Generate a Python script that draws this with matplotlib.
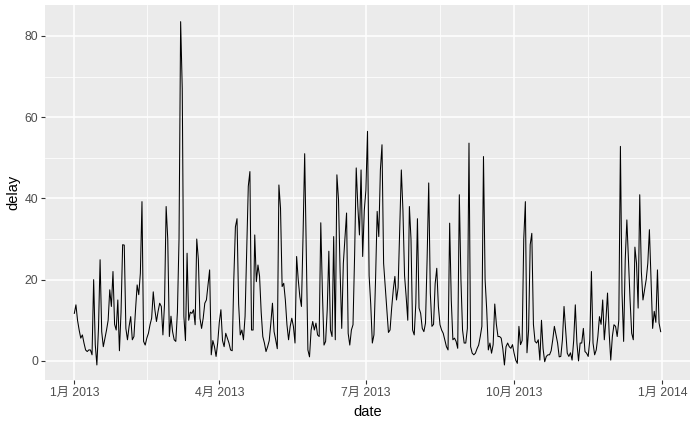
import matplotlib
matplotlib.use("Agg")
import matplotlib.pyplot as plt
import matplotlib.dates as mdates
import pandas as pd

plt.rcParams['font.family'] = ['Liberation Sans', 'Noto Sans CJK SC', 'DejaVu Sans']

# mean departure delay per day
jan = [11.7, 13.8, 10, 7.6, 5.6, 6.4, 4.4, 2.7, 2.3, 2.7, 2.7, 1.5, 20, 4, -1, 8,
       24.9, 7.2, 3.5, 5.6, 7.6, 10, 17.5, 13.4, 22, 9, 7.6, 15, 2.5, 12, 28.6]
feb = [28.5, 8, 5.2, 8.5, 10.9, 5.2, 6, 12.6, 18.7, 16.3, 21.6, 39.2, 4.8, 3.9,
       5.6, 6.8, 8.9, 10.5, 17, 12.6, 9.7, 12.2, 14.2, 13.4, 6.4, 14, 38, 30]
mar = [6, 11, 7.2, 5.2, 4.8, 12, 30, 83.5, 67, 11, 5, 26.5, 10, 12, 11.7, 12.6,
       8.9, 30, 25, 10.5, 8, 10.5, 14.2, 15, 18.7, 22.4, 1.5, 5, 3.5, 1.1, 4.4]
apr = [9.5, 12.6, 5, 3.5, 6.8, 5.6, 4.4, 2.7, 2.5, 20, 33, 35, 14, 6.4, 7.6,
       5.2, 11, 27.3, 43, 46.6, 7.6, 7.6, 31, 19.5, 23.6, 20.8, 12, 6, 4.4, 2.3]
may = [3.5, 5, 9.3, 14.2, 7.2, 5.2, 3, 43.3, 37.6, 18.3, 19.1, 15, 8.9, 5.2, 8.5,
       10.5, 8.5, 4.4, 25.7, 20, 15.8, 13.4, 31, 51, 27.3, 2.7, 1, 7.6, 9.7, 7.6, 9.3]
jun = [6.4, 6, 34, 17, 3.9, 4.8, 12.6, 27, 7.6, 6, 30.6, 5.2, 45.8, 39.7, 22, 8,
       24, 30, 36.4, 6.8, 3.9, 7.6, 8.9, 26, 47.5, 38, 31, 47, 25.7, 37]
jul = [42, 56.5, 21, 14, 4.4, 6.4, 20, 36.8, 30.6, 47, 53.2, 24, 18.3, 12.6, 7,
       7.6, 13, 17.5, 20.8, 15, 18, 32.7, 47, 37, 21, 15.8, 10, 38, 30, 7.6, 6.4]
aug = [14.2, 35, 13, 11.7, 8, 7.2, 9.3, 25, 43.8, 16.7, 8.5, 9, 19, 22.8, 13.4,
       8.9, 7.6, 6.8, 5.2, 3.5, 2.7, 33.9, 15, 5.2, 5.6, 4.8, 3.1, 40.9, 20, 7.6, 4.4]
sep = [4.4, 8, 53.6, 3.5, 1.9, 1.5, 1.9, 3, 3.9, 6, 8.5, 50.3, 20, 12.6, 2.7, 4.4,
       1.9, 4, 14, 9, 6, 6, 5.6, 3, -1, 3.5, 4.4, 3.5, 3.1, 4]
oct_ = [1.9, 0.2, -0.6, 8.5, 4, 5, 30, 39.2, 2, 7.6, 28.6, 31.4, 9, 4.8, 4.4, 5.2,
        0.2, 10, 3, -0.2, 1.1, 1.5, 1.5, 2.5, 5.2, 8.5, 6.4, 4.4, 1, 1.1, 5.2]
nov = [13.4, 7.6, 1.9, 1.1, 2, 0.2, 5, 13.8, 4.4, 0, 4.4, 4.4, 8, 2.3, 1.9, 1.1,
       5.2, 22, 4.4, 1.5, 2.7, 6, 10.9, 9, 15, 5.2, 10, 16.7, 7, 0.2]
dec = [6, 8.9, 8.5, 6, 10, 52.8, 16.7, 4.8, 25, 34.7, 25, 15, 6.8, 5.2, 28, 24,
       13, 40.9, 22, 15, 17.5, 20, 24, 32.3, 20, 8, 12.2, 9.5, 22.4, 9.3, 7.2]

delay = jan + feb + mar + apr + may + jun + jul + aug + sep + oct_ + nov + dec
dates = pd.date_range("2013-01-01", periods=len(delay), freq="D")

major = pd.to_datetime(["2013-01-01", "2013-04-01", "2013-07-01", "2013-10-01", "2014-01-01"])
labels = ["1月 2013", "4月 2013", "7月 2013", "10月 2013", "1月 2014"]
minor = major[:-1] + (major[1:] - major[:-1]) / 2

fig = plt.figure(figsize=(6.96, 4.22), dpi=100)
ax = fig.add_axes([45 / 696, 42 / 422, 645 / 696, 375 / 422])
ax.set_facecolor("#EBEBEB")

ax.plot(dates, delay, color="black", lw=0.75)

pad = pd.Timedelta(days=18.2)
ax.set_xlim(dates[0] - pad, dates[-1] + pad)
ax.set_ylim(-4.7, 87.6)

ax.set_xticks(major)
ax.set_xticklabels(labels)
ax.set_xticks(minor, minor=True)
ax.set_yticks([0, 20, 40, 60, 80])
ax.set_yticks([10, 30, 50, 70], minor=True)

ax.grid(which="major", color="white", lw=1.1)
ax.grid(which="minor", color="white", lw=0.55)
ax.set_axisbelow(True)
for s in ax.spines.values():
    s.set_visible(False)

ax.tick_params(which="major", length=3, width=0.8, color="#333333",
               labelcolor="#4D4D4D", labelsize=8.8, pad=2)
ax.tick_params(which="minor", length=0)

ax.set_xlabel("date", fontsize=10.5, labelpad=4)
ax.set_ylabel("delay", fontsize=10.5, labelpad=3)

fig.savefig("out.png", dpi=100)
